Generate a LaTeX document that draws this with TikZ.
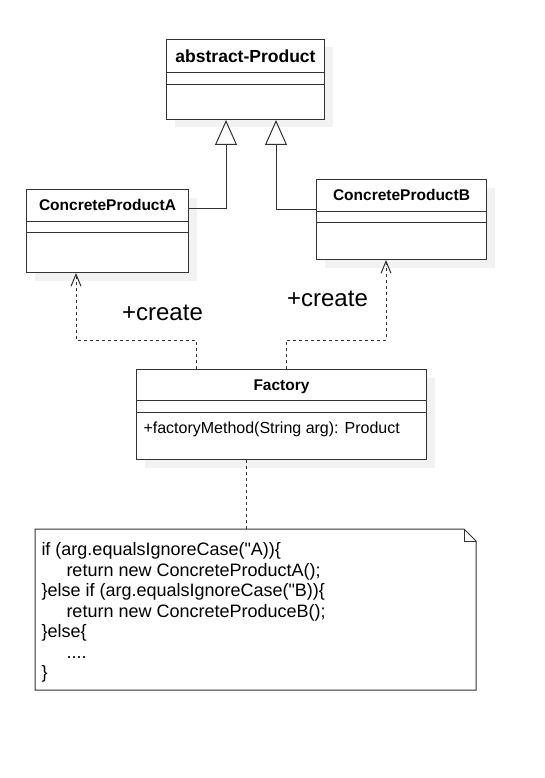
\documentclass[tikz,border=0pt]{standalone}
\usepackage{fontspec}
\setmainfont{Liberation Sans}
\usetikzlibrary{arrows.meta,calc,shadows}
\definecolor{linec}{HTML}{333333}
\definecolor{shadowc}{HTML}{F2F2F2}
\begin{document}
\begin{tikzpicture}[x=1pt,y=-1pt,line width=1pt,
  cls/.style={draw=linec,fill=white,anchor=north west,inner sep=0pt,
    general shadow={fill=shadowc,shadow xshift=8pt,shadow yshift=-8pt}},
  sep/.style={draw=linec},
  title/.style={font=\bfseries\fontsize{15.5}{18}\selectfont,anchor=base,inner sep=0pt},
  txt/.style={font=\fontsize{16}{19}\selectfont,anchor=base west,inner sep=0pt},
  code/.style={font=\fontsize{18}{20.5}\selectfont,anchor=base west,inner sep=0pt},
  lbl/.style={font=\fontsize{24}{28}\selectfont,anchor=base,inner sep=0pt},
  inh/.style={draw=linec,-{Triangle[open,length=25pt,width=22pt,line width=1pt]}},
  dep/.style={draw=linec,dash pattern=on 3pt off 3pt,-{Straight Barb[length=12pt,width=10pt,line width=1pt]}}]
\fill[white] (0,0) rectangle (544,778);
\useasboundingbox (0,0) rectangle (544,778);

% abstract-Product
\node[cls,minimum width=158pt,minimum height=80pt] (ap) at (166,39) {};
\draw[sep] ($(ap.north west)+(0,34)$) -- ($(ap.north east)+(0,34)$);
\draw[sep] ($(ap.north west)+(0,46)$) -- ($(ap.north east)+(0,46)$);
\node[title,font=\bfseries\fontsize{17.5}{20}\selectfont] (apt) at ($(ap.north)+(0,23.3)$) {abstract-Product};

% ConcreteProductA
\node[cls,minimum width=162pt,minimum height=83pt] (cpa) at (26,189) {};
\draw[sep] ($(cpa.north west)+(0,32)$) -- ($(cpa.north east)+(0,32)$);
\draw[sep] ($(cpa.north west)+(0,43)$) -- ($(cpa.north east)+(0,43)$);
\node[title] (cpat) at ($(cpa.north)+(0,21)$) {ConcreteProductA};

% ConcreteProductB
\node[cls,minimum width=170pt,minimum height=80pt] (cpb) at (316,179) {};
\draw[sep] ($(cpb.north west)+(0,32)$) -- ($(cpb.north east)+(0,32)$);
\draw[sep] ($(cpb.north west)+(0,43)$) -- ($(cpb.north east)+(0,43)$);
\node[title] (cpbt) at ($(cpb.north)+(0,21)$) {ConcreteProductB};

% Factory
\node[cls,minimum width=290pt,minimum height=90pt] (fac) at (136,369) {};
\draw[sep] ($(fac.north west)+(0,31)$) -- ($(fac.north east)+(0,31)$);
\draw[sep] ($(fac.north west)+(0,43)$) -- ($(fac.north east)+(0,43)$);
\node[title] (fact) at ($(fac.north)+(0,21)$) {Factory};
\node[txt] (facm) at ($(fac.north west)+(7,64)$) {+factoryMethod(String arg): Product};

% inheritance
\draw[inh] ($(cpa.north east)+(0,19)$) -| ($(ap.south west)+(60,0)$);
\draw[inh] ($(cpb.north west)+(0,30)$) -| ($(ap.south west)+(110,0)$);

% dependencies
\draw[dep] ($(fac.north west)+(60,0)$) |- ($(cpa.south west)+(50,67)$) -- ($(cpa.south west)+(50,0)$);
\draw[dep] ($(fac.north west)+(150,0)$) |- ($(cpb.south west)+(70,80)$) -- ($(cpb.south west)+(70,0)$);
\node[lbl] (c1) at (162.5,320) {+create};
\node[lbl] (c2) at (327.5,306.7) {+create};

% note
\node[inner sep=0pt,minimum width=440pt,minimum height=160pt,anchor=north west] (note) at (35,529) {};
\draw[draw=linec,fill=white] (note.north west) -- ($(note.north east)+(-12,0)$) -- ($(note.north east)+(0,12)$) -- (note.south east) -- (note.south west) -- cycle;
\draw[draw=linec] ($(note.north east)+(-12,0)$) -- ($(note.north east)+(-12,12)$) -- ($(note.north east)+(0,12)$);
\coordinate (nl1) at ($(fac.south west)+(110,0)$);
\coordinate (nl2) at ($(note.north west)+(211,0)$);
\draw[draw=linec,dash pattern=on 3pt off 3pt] (nl1) -- (nl2);

\node[code] (l1) at (41,555.7) {if (arg.equalsIgnoreCase(\textquotedbl A))\{};
\node[code] (l2) at (66,576.2) {return new ConcreteProductA();};
\node[code] (l3) at (41,596.7) {\}else if (arg.equalsIgnoreCase(\textquotedbl B))\{};
\node[code] (l4) at (66,617.2) {return new ConcreteProduceB();};
\node[code] (l5) at (41,637.7) {\}else\{};
\node[code] (l6) at (66,658.2) {....};
\node[code] (l7) at (41,678.7) {\}};
\end{tikzpicture}
\end{document}
